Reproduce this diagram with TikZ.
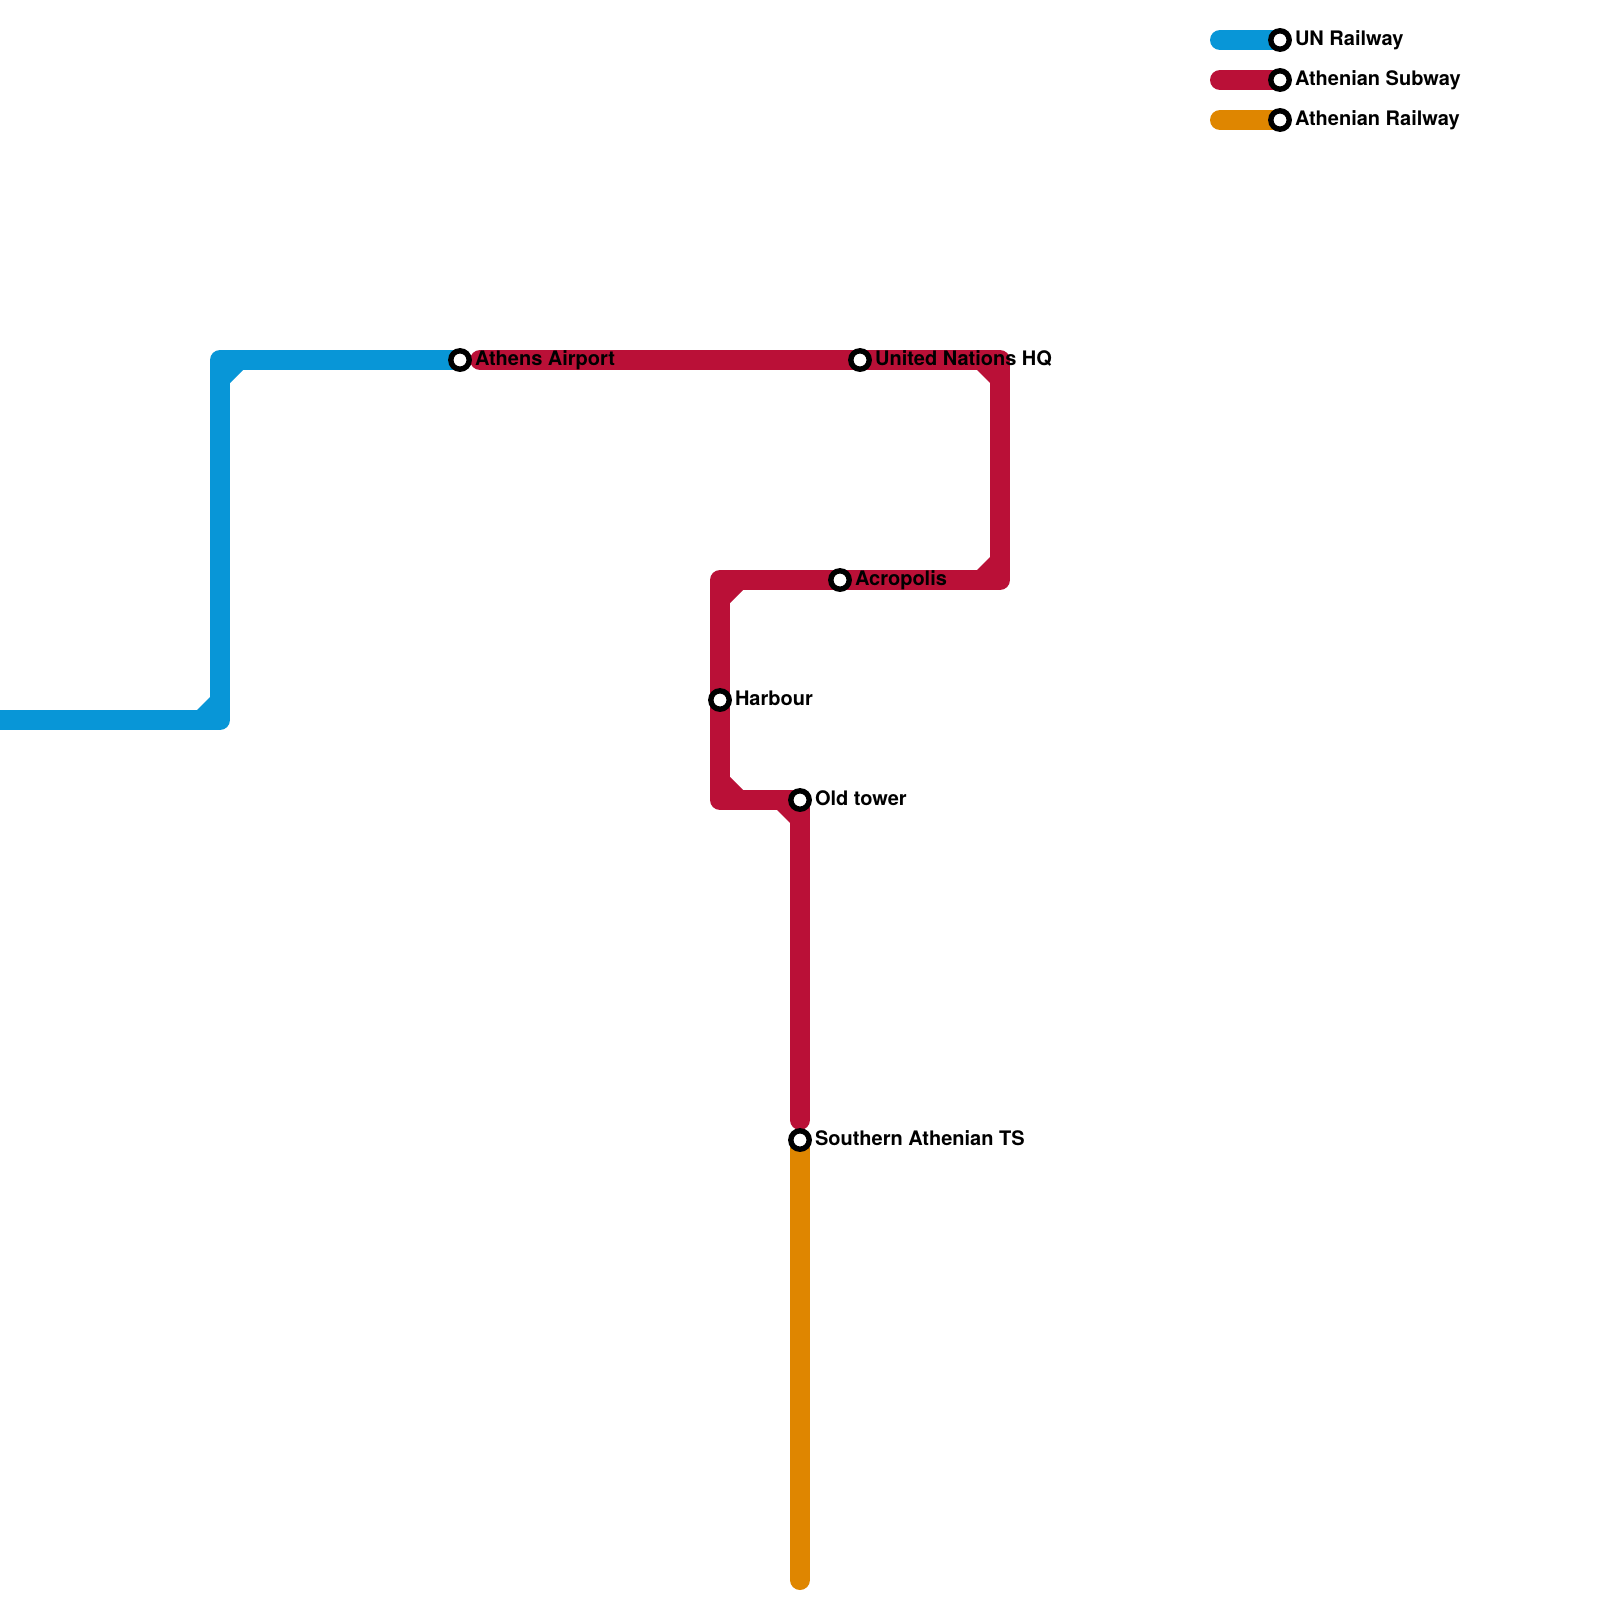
\documentclass[tikz,border=0pt]{standalone}
\usepackage{fontspec}
\setmainfont{TeX Gyre Heros}
\usetikzlibrary{calc}
\definecolor{unblue}{HTML}{0896D7}
\definecolor{subred}{HTML}{BA1037}
\definecolor{railorange}{HTML}{DF8600}
\tikzset{
  x=0.5pt,y=-0.5pt,
  metro/.style={line width=10pt,line join=round},
  stationring/.style={circle,draw=black,fill=white,line width=2.7pt,minimum size=9.2pt,inner sep=0pt,outer sep=0pt},
  lbl/.style={anchor=base west,inner sep=0pt,outer sep=0pt,font=\bfseries\fontsize{10}{12}\selectfont,text=black},
}
\newcommand{\chamfer}[4]{\fill[#1] ($(#2)+(#3*10,#4*10)$) -- ++(#3*13,0) -- ++(-#3*13,#4*13) -- cycle;}
\begin{document}
\begin{tikzpicture}
\useasboundingbox (0,0) rectangle (1600,1600);
\fill[white] (0,0) rectangle (1600,1600);
% route points
\coordinate (bs) at (0,720);
\coordinate (b1) at (220,720);
\coordinate (b2) at (220,360);
\coordinate (airportc) at (460,360);
\coordinate (rs) at (480,360);
\coordinate (r1) at (1000,360);
\coordinate (r2) at (1000,580);
\coordinate (r3) at (720,580);
\coordinate (r4) at (720,800);
\coordinate (r5) at (800,800);
\coordinate (r6) at (800,1120);
\coordinate (os) at (800,1140);
\coordinate (oe) at (800,1580);
\coordinate (l1s) at (1220,40);
\coordinate (l2s) at (1220,80);
\coordinate (l3s) at (1220,120);
\coordinate (l1e) at (1280,40);
\coordinate (l2e) at (1280,80);
\coordinate (l3e) at (1280,120);
% lines
\draw[metro,unblue] (bs) -- (b1) -- (b2) -- (airportc);
\chamfer{unblue}{b1}{-1}{-1}
\chamfer{unblue}{b2}{1}{1}
\draw[metro,subred,line cap=round] (rs) -- (r1) -- (r2) -- (r3) -- (r4) -- (r5) -- (r6);
\chamfer{subred}{r1}{-1}{1}
\chamfer{subred}{r2}{-1}{-1}
\chamfer{subred}{r3}{1}{1}
\chamfer{subred}{r4}{1}{-1}
\chamfer{subred}{r5}{-1}{1}
\draw[metro,railorange,line cap=round] (os) -- (oe);
\draw[metro,unblue,line cap=round] (l1s) -- (l1e);
\draw[metro,subred,line cap=round] (l2s) -- (l2e);
\draw[metro,railorange,line cap=round] (l3s) -- (l3e);
% station markers
\node[stationring] (airport) at (airportc) {};
\node[stationring] (un) at (860,360) {};
\node[stationring] (acropolis) at (840,580) {};
\node[stationring] (harbour) at (720,700) {};
\node[stationring] (oldtower) at (r5) {};
\node[stationring] (southern) at (os) {};
\node[stationring] (k1) at (l1e) {};
\node[stationring] (k2) at (l2e) {};
\node[stationring] (k3) at (l3e) {};
% labels
\node[lbl] (tairport) at (475,365.5) {Athens Airport};
\node[lbl] (tun) at (875,365.5) {United Nations HQ};
\node[lbl] (tacropolis) at (855,585.5) {Acropolis};
\node[lbl] (tharbour) at (735,705.5) {Harbour};
\node[lbl] (toldtower) at (815,805.5) {Old tower};
\node[lbl] (tsouthern) at (815,1145.5) {Southern Athenian TS};
\node[lbl] (tk1) at (1295,45.5) {UN Railway};
\node[lbl] (tk2) at (1295,85.5) {Athenian Subway};
\node[lbl] (tk3) at (1295,125.5) {Athenian Railway};
\end{tikzpicture}
\end{document}
